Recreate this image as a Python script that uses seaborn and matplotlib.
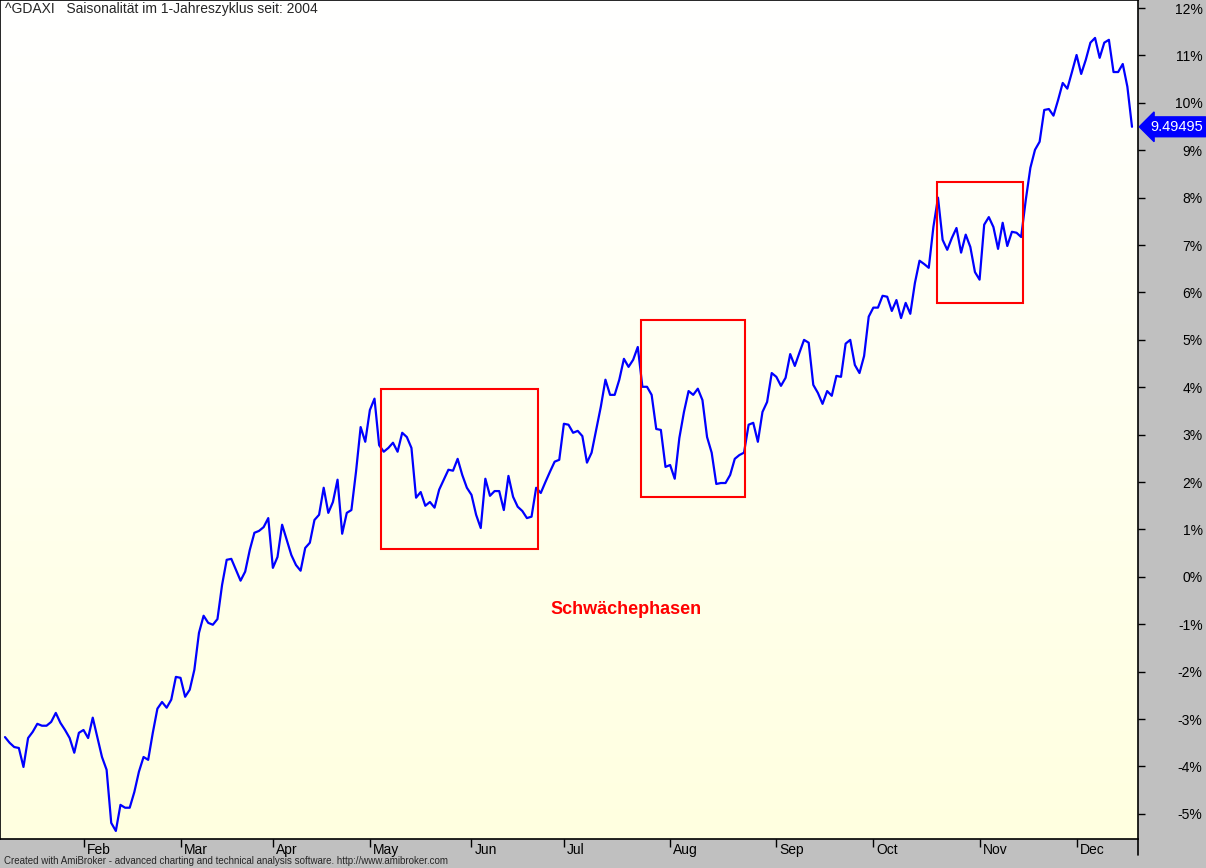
import numpy as np
import pandas as pd
import seaborn as sns
import matplotlib.pyplot as plt
import matplotlib.transforms as mtransforms
from matplotlib.colors import LinearSegmentedColormap
from matplotlib.patches import Rectangle
from matplotlib.lines import Line2D

sns.set_style("white")
plt.rcParams['font.family'] = ['Liberation Sans', 'DejaVu Sans']

# seasonal curve in %, one value per trading day
seasonal_pct = [
    -3.38, -3.50, -3.59, -3.61, -4.01, -3.40, -3.27, -3.10, -3.14, -3.14,
    -3.06, -2.87, -3.08, -3.23, -3.40, -3.71, -3.29, -3.23, -3.40, -2.97,
    -3.38, -3.80, -4.07, -5.19, -5.36, -4.81, -4.87, -4.87, -4.54, -4.11,
    -3.80, -3.86, -3.29, -2.78, -2.64, -2.76, -2.59, -2.11, -2.13, -2.53,
    -2.38, -1.96, -1.18, -0.82, -0.97, -1.01, -0.89, -0.17, 0.36, 0.38,
    0.15, -0.08, 0.11, 0.57, 0.93, 0.97, 1.05, 1.24, 0.19, 0.42,
    1.10, 0.78, 0.46, 0.25, 0.13, 0.61, 0.72, 1.20, 1.31, 1.88,
    1.35, 1.58, 2.05, 0.91, 1.35, 1.41, 2.22, 3.16, 2.85, 3.52,
    3.76, 2.78, 2.64, 2.72, 2.83, 2.64, 3.04, 2.95, 2.72, 1.67,
    1.79, 1.50, 1.58, 1.46, 1.84, 2.05, 2.26, 2.24, 2.49, 2.15,
    1.88, 1.73, 1.31, 1.03, 2.07, 1.71, 1.81, 1.81, 1.41, 2.13,
    1.69, 1.48, 1.39, 1.24, 1.27, 1.88, 1.77, 2.00, 2.22, 2.43,
    2.47, 3.23, 3.21, 3.04, 3.08, 2.97, 2.41, 2.62, 3.10, 3.59,
    4.16, 3.84, 3.84, 4.16, 4.60, 4.43, 4.58, 4.85, 4.01, 4.01,
    3.84, 3.12, 3.10, 2.32, 2.36, 2.07, 2.93, 3.48, 3.92, 3.84,
    3.97, 3.73, 2.95, 2.62, 1.96, 1.98, 1.98, 2.15, 2.49, 2.57,
    2.62, 3.21, 3.25, 2.85, 3.48, 3.69, 4.30, 4.22, 4.03, 4.20,
    4.70, 4.45, 4.73, 5.00, 4.94, 4.05, 3.88, 3.65, 3.92, 3.82,
    4.24, 4.22, 4.92, 5.00, 4.47, 4.30, 4.66, 5.49, 5.68, 5.68,
    5.93, 5.91, 5.61, 5.84, 5.46, 5.78, 5.55, 6.20, 6.67, 6.60,
    6.52, 7.38, 8.00, 7.11, 6.90, 7.15, 7.36, 6.84, 7.22, 6.96,
    6.43, 6.27, 7.43, 7.59, 7.38, 6.92, 7.47, 6.98, 7.28, 7.26,
    7.17, 7.95, 8.63, 9.01, 9.18, 9.85, 9.87, 9.73, 10.06, 10.42,
    10.30, 10.65, 11.01, 10.61, 10.91, 11.27, 11.37, 10.95, 11.27, 11.33,
    10.65, 10.65, 10.82, 10.34, 9.49495,
]
month_names = ['Feb', 'Mar', 'Apr', 'May', 'Jun', 'Jul', 'Aug', 'Sep', 'Oct', 'Nov', 'Dec']
month_start_bar = [17, 38, 58, 79, 101, 121, 144, 167, 188, 211, 232]
y_ticks = list(range(-5, 13))

# weak phases (red boxes)
weak_start = [81.4, 137.7, 201.8]
weak_end = [115.4, 160.2, 220.4]
weak_low = [0.59, 1.69, 5.78]
weak_high = [3.97, 5.42, 8.34]

last_value = seasonal_pct[-1]

df = pd.DataFrame({'bar': range(len(seasonal_pct)), 'pct': seasonal_pct})

W, H = 1206, 868
fig = plt.figure(figsize=(W / 100, H / 100), dpi=100, facecolor='#c0c0c0')
ax = fig.add_axes([0, 29 / H, 1138 / W, 839 / H])

xlim = (-1.08, 245.3)
ylim = (-5.53, 12.17)

# background gradient white -> light yellow
cmap = LinearSegmentedColormap.from_list('bg', ['#ffffff', '#ffffe0'])
ax.imshow(np.linspace(0, 1, 256).reshape(-1, 1), extent=[xlim[0], xlim[1], ylim[0], ylim[1]],
          aspect='auto', cmap=cmap, origin='upper', zorder=0)

sns.lineplot(data=df, x='bar', y='pct', color='#0000ff', linewidth=1.6, ax=ax, zorder=3)

for s, e, lo, hi in zip(weak_start, weak_end, weak_low, weak_high):
    ax.add_patch(Rectangle((s, lo), e - s, hi - lo, fill=False, ec='#ff0000', lw=1.5, zorder=4))

ax.text(134.4, -0.68, 'Schwächephasen', color='#ff0000', fontsize=13, fontweight='bold',
        ha='center', va='center', zorder=5)

ax.set_xlim(*xlim)
ax.set_ylim(*ylim)
ax.set_xlabel('')
ax.set_ylabel('')

# right price axis
ax.yaxis.tick_right()
ax.set_yticks(y_ticks)
ax.set_yticklabels([f'{t}%' for t in y_ticks])
ax.tick_params(axis='y', direction='out', length=5, width=1, labelsize=10, pad=41.5,
               colors='black', right=True, left=False)
for lbl in ax.get_yticklabels():
    lbl.set_horizontalalignment('right')

# month axis, labels just right of the tick mark
ax.set_xticks(month_start_bar)
ax.set_xticklabels(month_names)
ax.tick_params(axis='x', direction='out', length=6, width=1, labelsize=10, pad=-3,
               colors='black', bottom=True)
shift = mtransforms.ScaledTranslation(3 / 100, 0, fig.dpi_scale_trans)
for lbl in ax.get_xticklabels():
    lbl.set_horizontalalignment('left')
    lbl.set_transform(lbl.get_transform() + shift)

for sp in ax.spines.values():
    sp.set_color('black')
    sp.set_linewidth(1.2)

# last value marker
trans = mtransforms.blended_transform_factory(ax.transAxes, ax.transData)
ax.text(1 + 12 / 1138, last_value, f'{last_value:.5f}', transform=trans, color='white',
        fontsize=10.5, ha='left', va='center', zorder=6, clip_on=False,
        bbox=dict(boxstyle='larrow,pad=0.2', fc='#0000ff', ec='#0000ff'))

fig.add_artist(Line2D([1138 / W, 1138 / W], [13 / H, 29 / H], color='black', lw=1.2))

fig.text(5 / W, 1 - 9 / H, '^GDAXI   Saisonalität im 1-Jahreszyklus seit: 2004', fontsize=10,
         ha='left', va='center')
fig.text(4 / W, 7 / H,
         'Created with AmiBroker - advanced charting and technical analysis software. http://www.amibroker.com',
         fontsize=7, ha='left', va='center')

fig.savefig('out.png', dpi=100, facecolor=fig.get_facecolor())
